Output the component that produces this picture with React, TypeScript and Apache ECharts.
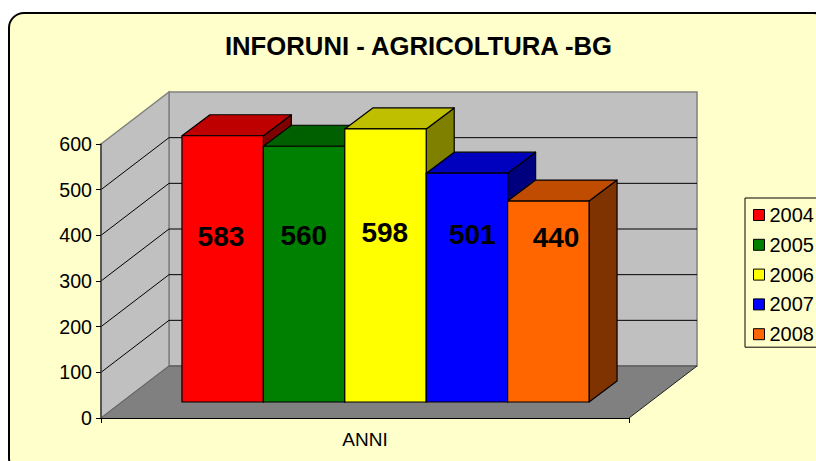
import React, { useEffect, useRef } from "react";
import * as echarts from "echarts";

const categories = ["ANNI"];
const years = ["2004", "2005", "2006", "2007", "2008"];
const values = [583, 560, 598, 501, 440];
const yTicks = [0, 100, 200, 300, 400, 500, 600];

const frontColors = ["#FF0000", "#008000", "#FFFF00", "#0000FF", "#FF6600"];
const topColors = ["#BF0000", "#006000", "#BFBF00", "#0000BF", "#BF4C00"];
const sideColors = ["#7F0000", "#004000", "#7F7F00", "#00007F", "#7F3300"];

// Layout constants of the fake 3D projection, in pixels.
const WALL_DX = 68;
const WALL_DY = -52;
const BAR_SHIFT_X = 20.5;
const BAR_SHIFT_Y = -16;
const BAR_DX = 28;
const BAR_DY = -21;
const BAR_BAND = 0.1542;
const LABEL_VALUE = 400;
const labelNudge = [
  [-1.7, 1.4],
  [-0.3, -0.3],
  [-0.7, -2.6],
  [5.5, -1.3],
  [7.7, 2],
];

const FONT = "Liberation Sans, Arial, sans-serif";

function wallItem(_params: any, api: any) {
  const band = api.size([1, 0])[0];
  const cx = api.coord([0, 0])[0];
  const y0 = api.coord([0, 0])[1];
  const yTop = api.coord([0, 600])[1];
  const xL = cx - band / 2;
  const xR = cx + band / 2;
  const bxL = xL + WALL_DX;
  const bxR = xR + WALL_DX;
  const by0 = y0 + WALL_DY;
  const byTop = yTop + WALL_DY;
  const edge = { stroke: "#808080", lineWidth: 1, fill: "none" };
  return {
    type: "group",
    silent: true,
    children: [
      {
        type: "polygon",
        shape: { points: [[bxL, byTop], [bxR, byTop], [bxR, by0], [bxL, by0]] },
        style: { fill: "#C0C0C0", stroke: "#808080", lineWidth: 1.5 },
      },
      {
        type: "polygon",
        shape: { points: [[xL, yTop], [bxL, byTop], [bxL, by0], [xL, y0]] },
        style: { fill: "#C0C0C0", stroke: "#808080", lineWidth: 1.5 },
      },
      {
        type: "polygon",
        shape: { points: [[xL, y0], [xR, y0], [bxR, by0], [bxL, by0]] },
        style: { fill: "#808080", stroke: "none" },
      },
      {
        type: "line",
        shape: { x1: bxL, y1: by0, x2: bxR, y2: by0 },
        style: { stroke: "#606060", lineWidth: 1.5 },
      },
      {
        type: "line",
        shape: { x1: xR, y1: y0, x2: bxR, y2: by0 },
        style: { stroke: "#202020", lineWidth: 1 },
      },
      {
        type: "line",
        shape: { x1: xL, y1: y0, x2: bxL, y2: by0 },
        style: { ...edge, stroke: "#606060" },
      },
    ],
  };
}

function gridItem(_params: any, api: any) {
  const v = api.value(1);
  const band = api.size([1, 0])[0];
  const [cx, y] = api.coord([0, v]);
  const xL = cx - band / 2;
  const xR = cx + band / 2;
  return {
    type: "polyline",
    silent: true,
    shape: {
      points: [
        [xL, y],
        [xL + WALL_DX, y + WALL_DY],
        [xR + WALL_DX, y + WALL_DY],
      ],
    },
    style: { stroke: "#000", lineWidth: 1, fill: "none" },
  };
}

function barItem(i: number) {
  return (_params: any, api: any) => {
    const v = api.value(1);
    const band = api.size([1, 0])[0];
    const w = band * BAR_BAND;
    const [cx, yV] = api.coord([0, v]);
    const y0 = api.coord([0, 0])[1] + BAR_SHIFT_Y;
    const yT = yV + BAR_SHIFT_Y;
    const x1 = cx + BAR_SHIFT_X + (i - 2.5) * w;
    const x2 = x1 + w;
    const line = { stroke: "#000", lineWidth: 1.2, lineJoin: "round" };
    const labelY = api.coord([0, LABEL_VALUE])[1];
    return {
      type: "group",
      silent: true,
      children: [
        {
          type: "polygon",
          shape: { points: [[x2, yT], [x2 + BAR_DX, yT + BAR_DY], [x2 + BAR_DX, y0 + BAR_DY], [x2, y0]] },
          style: { fill: sideColors[i], ...line },
        },
        {
          type: "polygon",
          shape: { points: [[x1, yT], [x1 + BAR_DX, yT + BAR_DY], [x2 + BAR_DX, yT + BAR_DY], [x2, yT]] },
          style: { fill: topColors[i], ...line },
        },
        {
          type: "polygon",
          shape: { points: [[x1, yT], [x2, yT], [x2, y0], [x1, y0]] },
          style: { fill: frontColors[i], ...line },
        },
        {
          type: "text",
          style: {
            text: String(v),
            x: (x1 + x2) / 2 + labelNudge[i][0],
            y: labelY + labelNudge[i][1],
            align: "center",
            verticalAlign: "middle",
            fontFamily: FONT,
            fontWeight: "bold",
            fontSize: 28,
            fill: "#000",
          },
        },
      ],
    };
  };
}

export default function App() {
  const ref = useRef<HTMLDivElement>(null);
  useEffect(() => {
    const chart = echarts.init(ref.current!, undefined, { renderer: "svg" });
    const barSeries = years.map((name, i) => ({
      type: "custom",
      name,
      z: 5 + i,
      clip: false,
      coordinateSystem: "cartesian2d",
      itemStyle: { color: frontColors[i], borderColor: "#000", borderWidth: 1 },
      encode: { x: 0, y: 1 },
      data: [[0, values[i]]],
      renderItem: barItem(i),
    }));
    chart.setOption({
      animation: false,
      backgroundColor: "#FFFFFF",
      textStyle: { fontFamily: FONT },
      graphic: {
        elements: [
          {
            type: "rect",
            z: -10,
            silent: true,
            shape: { x: 9, y: 13, width: 820, height: 460, r: 15 },
            style: { fill: "#FFFFCC", stroke: "#000", lineWidth: 2 },
          },
        ],
      },
      title: {
        text: "INFORUNI - AGRICOLTURA -BG",
        left: 413.5,
        top: 28,
        textAlign: "center",
        textStyle: { fontFamily: FONT, fontWeight: "bold", fontSize: 25.7, color: "#000" },
      },
      legend: {
        orient: "vertical",
        left: 745,
        top: 198,
        padding: [7, 8, 3, 8],
        itemWidth: 11,
        itemHeight: 11,
        itemGap: 9.8,
        borderColor: "#000",
        borderWidth: 1,
        icon: "rect",
        data: years,
        selectedMode: false,
        itemStyle: { borderColor: "#000", borderWidth: 1 },
        textStyle: { fontFamily: FONT, fontSize: 20, color: "#000", padding: 0 },
      },
      grid: { left: 101, right: 187, top: 144, bottom: 43 },
      xAxis: {
        type: "category",
        data: categories,
        z: 20,
        boundaryGap: true,
        axisLine: { lineStyle: { color: "#000", width: 1 } },
        axisTick: { show: true, length: 5, lineStyle: { color: "#000" } },
        axisLabel: { color: "#000", fontSize: 19, fontFamily: FONT, margin: 12 },
      },
      yAxis: {
        type: "value",
        min: 0,
        max: 600,
        interval: 100,
        z: 20,
        axisLine: { show: true, lineStyle: { color: "#404040", width: 1.5 } },
        axisTick: { show: true, length: 5, lineStyle: { color: "#000" } },
        axisLabel: { color: "#000", fontSize: 19.6, fontFamily: FONT, margin: 9 },
        splitLine: { show: false },
      },
      series: [
        {
          type: "custom",
          name: "walls",
          z: 1,
          clip: false,
          coordinateSystem: "cartesian2d",
          encode: { x: 0, y: 1 },
          data: [[0, 0]],
          renderItem: wallItem,
        },
        {
          type: "custom",
          name: "gridlines",
          z: 2,
          clip: false,
          coordinateSystem: "cartesian2d",
          encode: { x: 0, y: 1 },
          data: yTicks.slice(1, -1).map((t) => [0, t]),
          renderItem: gridItem,
        },
        ...barSeries,
      ],
    });
    return () => chart.dispose();
  }, []);
  return (
    <div
      ref={ref}
      style={{ position: "absolute", left: 0, top: 0, width: 816, height: 461 }}
    />
  );
}
